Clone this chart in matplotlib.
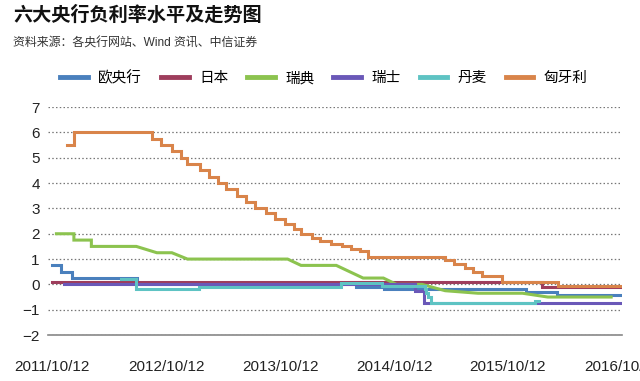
import pandas as pd
import matplotlib
matplotlib.use('Agg')
import matplotlib.pyplot as plt
import matplotlib.dates as mdates

plt.rcParams['font.family'] = ['Liberation Sans', 'Noto Sans CJK SC']

names = ['欧央行', '日本', '瑞典', '瑞士', '丹麦', '匈牙利']
colors = ['#4a80bd', '#9e3d5c', '#8cc34f', '#6a58b8', '#5ec3c3', '#d9844a']

# ECB deposit rate (change dates)
ecb_dates = ['2011-10-12', '2011-11-09', '2011-12-14', '2012-07-11', '2014-06-11',
             '2014-09-10', '2015-12-09', '2016-03-16', '2016-10-12']
ecb_vals = [0.75, 0.5, 0.25, 0.0, -0.1, -0.2, -0.3, -0.4, -0.4]

# Japan
jp_dates = ['2011-10-12', '2016-01-29', '2016-10-12']
jp_vals = [0.1, -0.1, -0.1]

# Sweden (line points)
se_dates = ['2011-10-26', '2011-12-21', '2011-12-21', '2012-02-15', '2012-02-15',
            '2012-07-08', '2012-09-12', '2012-10-30', '2012-12-19', '2013-11-05',
            '2013-12-18', '2014-04-10', '2014-07-05', '2014-09-08', '2014-10-20',
            '2015-01-10', '2015-03-25', '2015-07-08', '2015-11-28', '2016-02-17',
            '2016-09-07']
se_vals = [2.0, 2.0, 1.75, 1.75, 1.5,
           1.5, 1.25, 1.25, 1.0, 1.0,
           0.75, 0.75, 0.25, 0.25, 0.0,
           0.0, -0.25, -0.35, -0.35, -0.5,
           -0.5]

# Switzerland
ch_dates = ['2011-11-20', '2014-12-18', '2015-01-15', '2016-10-12']
ch_vals = [0.0, -0.25, -0.75, -0.75]

# Denmark
dk_dates = ['2012-05-20', '2012-07-06', '2013-01-25', '2014-04-25', '2014-09-05',
            '2015-01-20', '2015-01-23', '2015-01-30', '2015-02-06', '2016-01-08',
            '2016-01-20']
dk_vals = [0.2, -0.2, -0.1, 0.05, -0.05, -0.2, -0.35, -0.5, -0.75, -0.65, -0.65]

# Hungary
hu_dates = ['2011-11-29', '2011-12-20', '2012-08-28', '2012-09-25', '2012-10-30',
            '2012-11-27', '2012-12-18', '2013-01-29', '2013-02-26', '2013-03-26',
            '2013-04-23', '2013-05-28', '2013-06-25', '2013-07-23', '2013-08-27',
            '2013-09-24', '2013-10-29', '2013-11-26', '2013-12-17', '2014-01-21',
            '2014-02-18', '2014-03-25', '2014-04-29', '2014-05-27', '2014-06-24',
            '2014-07-22', '2015-03-24', '2015-04-21', '2015-05-26', '2015-06-23',
            '2015-07-21', '2015-09-23', '2016-03-22', '2016-10-12']
hu_vals = [5.5, 6.0, 5.75, 5.5, 5.25,
           5.0, 4.75, 4.5, 4.25, 4.0,
           3.75, 3.5, 3.25, 3.0, 2.8,
           2.6, 2.4, 2.2, 2.0, 1.85,
           1.7, 1.6, 1.5, 1.4, 1.3,
           1.1, 0.95, 0.8, 0.65, 0.5,
           0.35, 0.1, -0.05, -0.05]

xtick_dates = ['2011-10-12', '2012-10-12', '2013-10-12', '2014-10-12', '2015-10-12', '2016-10-12']
yticks = [-2, -1, 0, 1, 2, 3, 4, 5, 6, 7]

fig = plt.figure(figsize=(6.4, 3.81), dpi=100)
ax = fig.add_axes([0.075, 0.1207, 0.897, 0.598])

series = [(ecb_dates, ecb_vals, 'steps-post'),
          (jp_dates, jp_vals, 'steps-post'),
          (se_dates, se_vals, 'default'),
          (ch_dates, ch_vals, 'steps-post'),
          (dk_dates, dk_vals, 'steps-post'),
          (hu_dates, hu_vals, 'steps-post')]

for (d, v, ds), name, c in zip(series, names, colors):
    ax.plot(pd.to_datetime(d), v, drawstyle=ds, color=c, lw=2.2, label=name,
            solid_joinstyle='miter')

ax.set_ylim(-2, 7)
ax.set_yticks(yticks)
ax.set_xlim(pd.Timestamp('2011-09-29'), pd.Timestamp('2016-10-12'))
ax.set_xticks(pd.to_datetime(xtick_dates))
ax.xaxis.set_major_formatter(mdates.DateFormatter('%Y/%m/%d'))

ax.set_axisbelow(True)
ax.yaxis.grid(True, linestyle=(0, (1.2, 1.8)), color='#777777', lw=0.9)
for s in ['top', 'right', 'left']:
    ax.spines[s].set_visible(False)
ax.spines['bottom'].set_color('#888888')
ax.spines['bottom'].set_linewidth(1.2)
ax.tick_params(axis='x', length=0, pad=18, labelsize=11, labelcolor='#222222')
ax.tick_params(axis='y', length=0, pad=6, labelsize=11, labelcolor='#222222')

fig.text(13 / 640, 1 - 15 / 381, '六大央行负利率水平及走势图', fontsize=13.8,
         fontweight='bold', va='center', ha='left', color='#111111',
         family=['Noto Sans CJK SC'])
fig.text(13 / 640, 1 - 44 / 381, '资料来源：各央行网站、Wind 资讯、中信证券', fontsize=8.6,
         va='center', ha='left', color='#333333',
         family=['Liberation Sans', 'Noto Sans CJK SC'])

leg = fig.legend(loc='center', bbox_to_anchor=(324 / 640, 1 - 78 / 381), ncol=6,
                 frameon=False, fontsize=10.5, handlelength=1.9, handletextpad=0.7,
                 columnspacing=1.3, prop={'family': ['Noto Sans CJK SC'], 'size': 10.5})
for h in leg.legend_handles:
    h.set_linewidth(3.5)

fig.savefig('out.png', dpi=100)
plt.close()
